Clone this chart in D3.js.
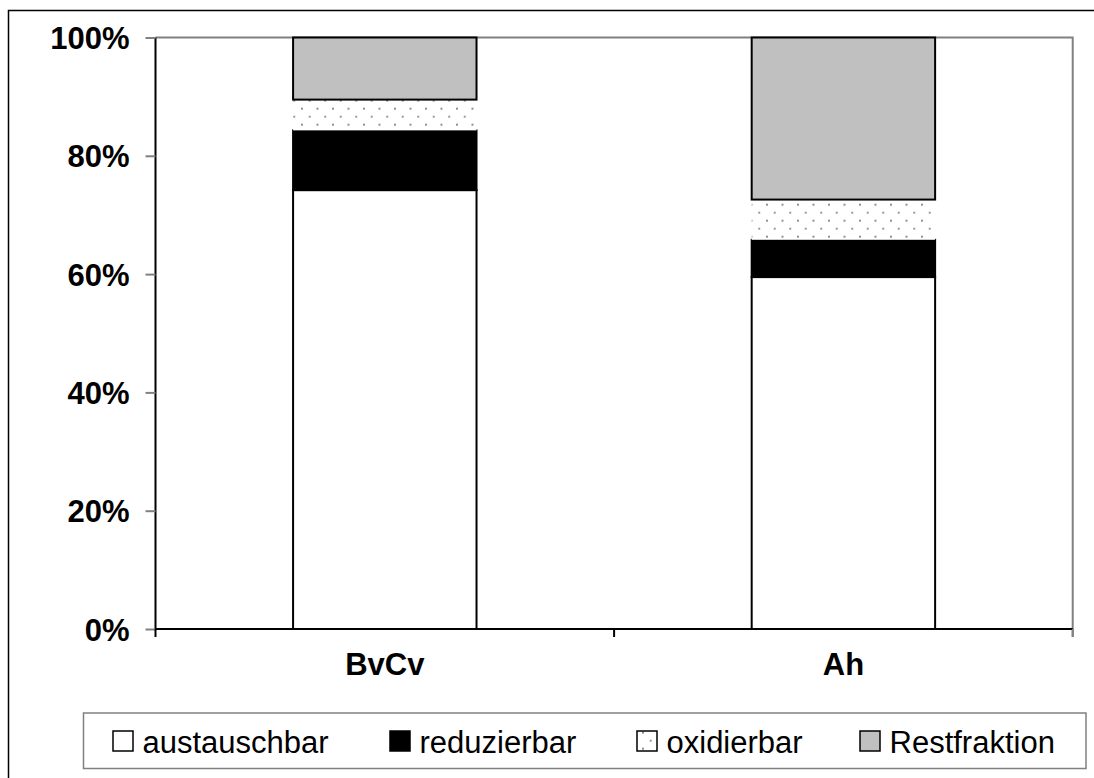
<!DOCTYPE html>
<html><head><meta charset="utf-8">
<script src="https://cdn.jsdelivr.net/npm/d3@7"></script>
<style>body{margin:0;background:#fff}svg{display:block}text{font-family:"Liberation Sans",Arial,sans-serif}</style>
</head><body><svg id="c" width="1094" height="778"></svg>
<script>
const categories = ["BvCv", "Ah"];
const seriesNames = ["austauschbar", "reduzierbar", "oxidierbar", "Restfraktion"];
const austauschbar = [74.2, 59.5];
const reduzierbar = [10.1, 6.3];
const oxidierbar = [5.2, 6.8];
const restfraktion = [10.5, 27.4];
const yTicks = [0, 20, 40, 60, 80, 100];
const yTickLabels = ["0%", "20%", "40%", "60%", "80%", "100%"];

const svg = d3.select("#c");
const L = 155.5, R = 1072.7, T = 37.5, B = 629;

const defs = svg.append("defs");
const pat = defs.append("pattern").attr("id", "dots").attr("patternUnits", "userSpaceOnUse")
  .attr("width", 15.5).attr("height", 16).attr("x", 301 - 15.5 * 20).attr("y", 107.7 - 16 * 7);
pat.append("rect").attr("width", 15.5).attr("height", 16).attr("fill", "#fff");
pat.append("circle").attr("cx", 1).attr("cy", 1).attr("r", 1.05).attr("fill", "#808080");
pat.append("circle").attr("cx", 8.75).attr("cy", 9).attr("r", 1.05).attr("fill", "#808080");

// outer border
svg.append("rect").attr("x", 8.5).attr("y", 10.5).attr("width", 1200).attr("height", 1000)
  .attr("fill", "none").attr("stroke", "#000").attr("stroke-width", 1.5);

const x = d3.scaleBand().domain(categories).range([L, R]).paddingInner(0.6).paddingOuter(0.3);
const y = d3.scaleLinear().domain([0, 100]).range([B, T]);

const rows = categories.map((c, i) => ({
  cat: c,
  austauschbar: austauschbar[i],
  reduzierbar: reduzierbar[i],
  oxidierbar: oxidierbar[i],
  Restfraktion: restfraktion[i]
}));
const stacked = d3.stack().keys(seriesNames)(rows);

const fills = {austauschbar: "#ffffff", reduzierbar: "#000000", oxidierbar: "url(#dots)", Restfraktion: "#c0c0c0"};
const strokes = {austauschbar: "#000", reduzierbar: "#000", oxidierbar: "none", Restfraktion: "#000"};

// plot frame top & right (gray)
svg.append("path").attr("d", `M${L},${T}H${R}V${B + 8}`).attr("fill", "none").attr("stroke", "#808080").attr("stroke-width", 2);

stacked.forEach(s => {
  svg.append("g").selectAll("rect").data(s).join("rect")
    .attr("x", d => x(d.data.cat))
    .attr("width", x.bandwidth())
    .attr("y", d => y(d[1]))
    .attr("height", d => y(d[0]) - y(d[1]))
    .attr("fill", fills[s.key])
    .attr("stroke", strokes[s.key])
    .attr("stroke-width", 2);
});

// y axis
const yAxis = svg.append("g").attr("transform", `translate(${L},0)`)
  .call(d3.axisLeft(y).tickValues(yTicks).tickFormat((d, i) => yTickLabels[i]).tickSize(10).tickPadding(16));
yAxis.select(".domain").attr("stroke", "#000").attr("stroke-width", 2).attr("d", `M0,${T}V${B}`);
yAxis.selectAll(".tick line").attr("stroke", "#808080").attr("stroke-width", 2);
yAxis.selectAll(".tick text").attr("font-size", 31).attr("font-weight", "bold").attr("fill", "#000")
  .attr("font-family", "'Liberation Sans', Arial, sans-serif").attr("dy", "0.36em");

// x axis
const xAxis = svg.append("g").attr("transform", `translate(0,${B})`)
  .call(d3.axisBottom(x).tickSize(0).tickPadding(24));
xAxis.select(".domain").attr("stroke", "#000").attr("stroke-width", 2).attr("d", `M${L},0H${R}`);
xAxis.selectAll(".tick text").attr("font-size", 31).attr("font-weight", "bold").attr("fill", "#000")
  .attr("font-family", "'Liberation Sans', Arial, sans-serif").attr("dy", "0.71em");
const step = x.step();
const bounds = [L, L + step, R];
xAxis.selectAll("line.b").data(bounds).join("line").attr("class", "b")
  .attr("x1", d => d).attr("x2", d => d).attr("y1", 0).attr("y2", 8)
  .attr("stroke", (d, i) => i === 2 ? "#808080" : "#000").attr("stroke-width", 2);

// legend
const lg = svg.append("g");
lg.append("rect").attr("x", 83.5).attr("y", 713).attr("width", 1002.5).attr("height", 55.5)
  .attr("fill", "#fff").attr("stroke", "#808080").attr("stroke-width", 1.5);
const legX = [113, 390, 637, 860];
seriesNames.forEach((n, i) => {
  lg.append("rect").attr("x", legX[i]).attr("y", 731).attr("width", 20).attr("height", 20)
    .attr("fill", fills[n]).attr("stroke", "#000").attr("stroke-width", 1.5);
  lg.append("text").attr("x", legX[i] + 29.5).attr("y", 752.5).attr("font-size", 31).attr("fill", "#000").text(n);
});
</script></body></html>
